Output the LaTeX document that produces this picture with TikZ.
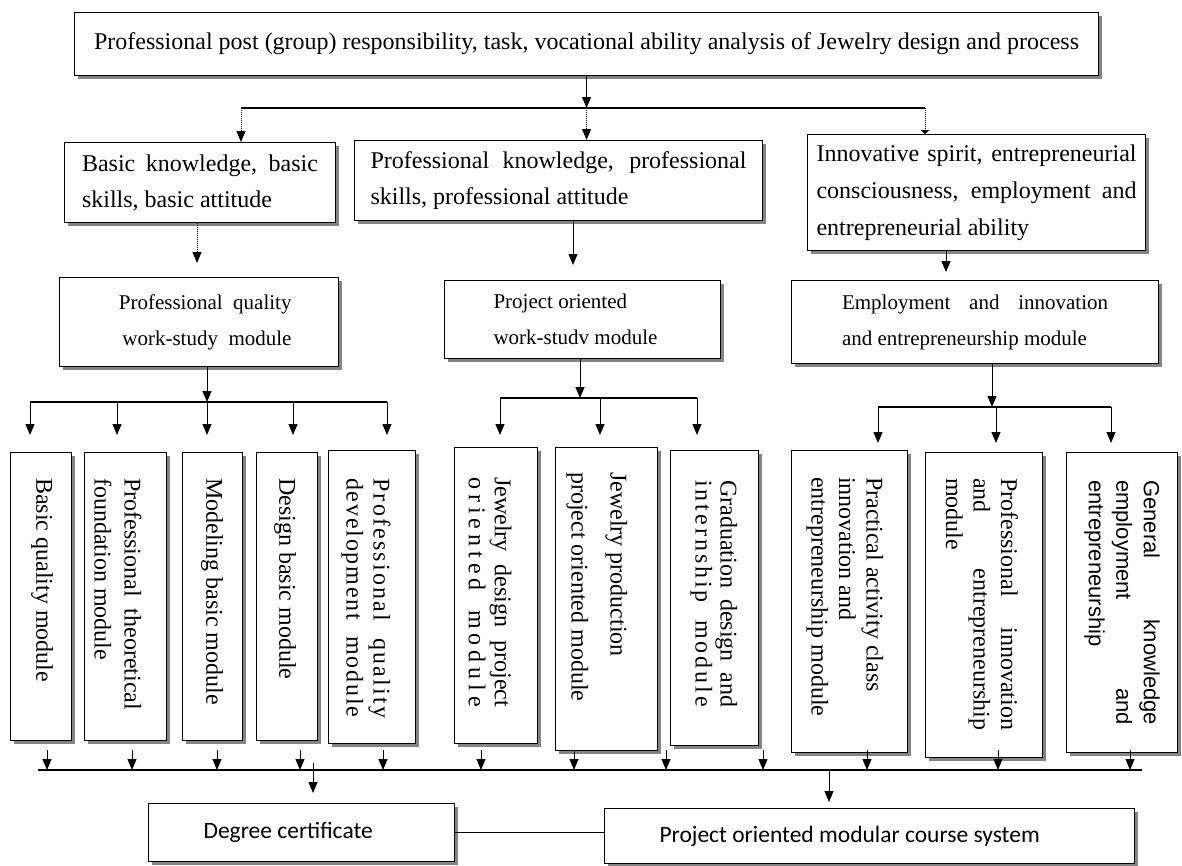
\documentclass[tikz,border=0pt]{standalone}
\usepackage{fontspec}
\setmainfont{Liberation Serif}
\newfontfamily\calib{Carlito}
\newfontfamily\arialf{Liberation Sans}
\usetikzlibrary{arrows.meta,shadows}
\newcommand\vf[1]{\fontsize{24}{#1}\selectfont}
\newcommand\ns{\spaceskip=0pt\xspaceskip=0pt\relax}
\newcommand\jb[2]{\makebox[#1pt][s]{\ns #2}}
\makeatletter
\def\lsp#1{\lsp@#1\@nil}
\def\lsp@#1#2\@nil{#1\ifx\relax#2\relax\else\hfil\lsp@#2\@nil\fi}
\makeatother
\newcommand\wg{\hspace{0.6em}\hfil}
\begin{document}
\begin{tikzpicture}[x=1pt,y=-1pt,
  box/.style={draw, line width=1.1pt, fill=white, inner sep=0pt, anchor=north west,
    drop shadow={shadow xshift=3pt, shadow yshift=-3pt, fill=black!60, opacity=0.8}},
  arr/.style={line width=1pt, -{Triangle[length=11pt,width=9pt]}},
  darr/.style={arr, densely dotted},
  tarr/.style={line width=1pt, densely dotted, -{Triangle[length=4pt,width=9pt]}},
  bus/.style={line width=1.1pt},
  vt/.style={rotate=-90, anchor=west, align=left, inner sep=0pt},
  ftop/.style={font=\fontsize{24}{28}\selectfont},
  frow/.style={font=\fontsize{24}{36}\selectfont},
  fmod/.style={font=\fontsize{21}{36}\selectfont},
  fbot/.style={font=\calib\fontsize{23.5}{26}\selectfont}]
\useasboundingbox (0,0) rectangle (1182,865);

% top box
\node[box, ftop, minimum width=1024, minimum height=63] (top) at (74,12)
  {Professional post (group) responsibility, task, vocational ability analysis of Jewelry design and process};

% second row
\node[box, frow, minimum width=271, minimum height=80, text width=236, align=left] (A) at (64,142)
  {\ns\jb{236}{Basic knowledge, basic}\\skills, basic attitude};
\node[box, frow, minimum width=408, minimum height=80, text width=376, align=left] (B) at (354,140)
  {\ns\jb{376}{Professional knowledge, professional}\\skills, professional attitude};
\node[box, frow, minimum width=338, minimum height=116, text width=320, align=left, font=\fontsize{24}{37}\selectfont] (C) at (807,134)
  {\ns\jb{320}{Innovative spirit, entrepreneurial}\\\jb{320}{consciousness, employment and}\\entrepreneurial ability};

% third row
\node[box, fmod, minimum width=279, minimum height=89, text width=185, align=right] (D) at (59,277)
  {Professional\hspace{0.5em}quality\\work-study\hspace{0.5em}module};
\node[box, fmod, minimum width=276, minimum height=78, text width=178, align=left] (E) at (444,280)
  {\ns Project oriented\\work-studv module};
\node[box, fmod, minimum width=367, minimum height=83, text width=266, align=left] (F) at (791,280)
  {\ns\jb{266}{Employment and innovation}\\and entrepreneurship module};

% module boxes
\node[box, minimum width=61, minimum height=288] (m1) at (10,452) {};
\node[box, minimum width=82, minimum height=288] (m2) at (84,452) {};
\node[box, minimum width=60, minimum height=288] (m3) at (182,452) {};
\node[box, minimum width=61, minimum height=288] (m4) at (256,452) {};
\node[box, minimum width=87, minimum height=293] (m5) at (328,450) {};
\node[box, minimum width=83, minimum height=296] (m6) at (454,447) {};
\node[box, minimum width=102, minimum height=303] (m7) at (555,447) {};
\node[box, minimum width=88, minimum height=295] (m8) at (670,450) {};
\node[box, minimum width=116, minimum height=302] (m9) at (791,450) {};
\node[box, minimum width=117, minimum height=305] (m10) at (925,452) {};
\node[box, minimum width=111, minimum height=300] (m11) at (1066,452) {};

% module texts
\node[vt, font=\vf{27}] (t1) at (42,478) {Basic quality module};
\node[vt, font=\vf{30}] (t2) at (118,478) {\jb{232}{Professional theoretical}\\foundation module};
\node[vt, font=\vf{27}] (t3) at (212,478) {Modeling basic module};
\node[vt, font=\vf{27}] (t4) at (285,478) {Design basic module};
\node[vt, font=\vf{27}] (t5) at (366,478)
  {\jb{240}{\lsp{Professional}\wg\lsp{quality}}\\\jb{239}{\lsp{development}\wg\lsp{module}}};
\node[vt, font=\vf{26}] (t6) at (490,477)
  {\jb{230}{Jewelry design project}\\\jb{230}{\lsp{oriented}\wg\lsp{module}}};
\node[vt, font=\vf{39}] (t7) at (597,472) {Jewelry production\\project oriented module};
\node[vt, font=\vf{25}] (t8) at (714,480)
  {\jb{227}{Graduation design and}\\\jb{227}{\lsp{internship}\wg\lsp{module}}};
\node[vt, font=\vf{27.5}] (t9) at (845,477) {Practical activity class\\innovation and\\entrepreneurship module};
\node[vt, font=\vf{27.5}] (t10) at (982,478)
  {\jb{252}{Professional innovation}\\\jb{252}{and entrepreneurship}\\module};
\node[vt, font=\arialf\fontsize{22}{27.5}\selectfont] (t11) at (1122,480)
  {\jb{245}{General knowledge}\\\jb{245}{employment and}\\entrepreneurship};

% bottom boxes
\node[box, fbot, minimum width=306, minimum height=58, text width=196, align=left] (Deg) at (148,803) {\ns Degree certificate};
\node[box, fbot, minimum width=530, minimum height=55, text width=420, align=left] (Proj) at (604,808) {\ns Project oriented modular course system};

% top bus
\coordinate (b0L) at (241,108);
\coordinate (b0M) at (top.south |- b0L);
\coordinate (b0R) at (925,108);
\draw[bus] (b0L) -- (b0R);
\draw[arr] (top.south) -- (b0M);
\draw[darr] (b0L) -- (b0L |- A.north);
\draw[darr] (b0M) -- (b0M |- B.north);
\draw[tarr] (b0R) -- (b0R |- C.north);

% second to third row
\coordinate (aD) at (197,263);
\coordinate (aE) at (573,265);
\coordinate (aF) at (946,272);
\draw[darr] (A.south -| aD) -- (aD);
\draw[arr] (B.south -| aE) -- (aE);
\draw[arr] (C.south -| aF) -- (aF);

% third row to module buses
\coordinate (j1) at (207,402);
\coordinate (j2) at (580,398);
\coordinate (j3) at (992,407);
\draw[arr] (D.south -| j1) -- (j1);
\draw[arr] (E.south -| j2) -- (j2);
\draw[arr] (F.south -| j3) -- (j3);
\draw[bus] (30,402) coordinate (j1L) -- (387,402) coordinate (j1R);
\draw[bus] (500,398) coordinate (j2L) -- (697,398) coordinate (j2R);
\draw[bus] (878,407) coordinate (j3L) -- (1111,407) coordinate (j3R);
\foreach \x in {30,117,207,293,387} \draw[arr] (\x,402) -- (\x,435);
\foreach \x in {500,600,697} \draw[arr] (\x,398) -- (\x,435);
\foreach \x in {878,996,1111} \draw[arr] (\x,407) -- (\x,443);

% bottom bus
\coordinate (busL) at (38,770);
\coordinate (busR) at (1142,770);
\draw[bus] (busL) -- (busR);
\foreach \x in {47,132,217,300,383,481,574,666,763,867,998,1130} \draw[arr] (\x,750) -- (\x,770);
\coordinate (dg) at (313,763);
\coordinate (pj) at (829,770);
\draw[arr] (dg) -- ([yshift=10pt]dg |- Deg.north);
\draw[arr] (pj) -- ([yshift=6pt]pj |- Proj.north);
\draw[bus] (Deg.east) -- (Deg.east -| Proj.west);
\end{tikzpicture}
\end{document}
